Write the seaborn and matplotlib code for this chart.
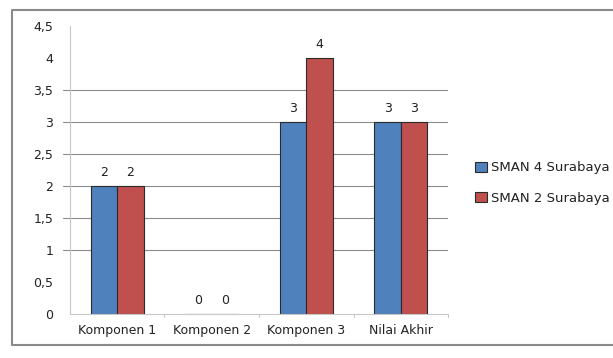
import matplotlib
matplotlib.use("Agg")
import matplotlib.pyplot as plt
import seaborn as sns
import pandas as pd
from matplotlib.lines import Line2D

categories = ["Komponen 1", "Komponen 2", "Komponen 3", "Nilai Akhir"]
series_names = ["SMAN 4 Surabaya", "SMAN 2 Surabaya"]
sman4 = [2, 0, 3, 3]
sman2 = [2, 0, 4, 3]
yticks = [0, 0.5, 1, 1.5, 2, 2.5, 3, 3.5, 4, 4.5]
ytick_labels = ["0", "0,5", "1", "1,5", "2", "2,5", "3", "3,5", "4", "4,5"]

df = pd.DataFrame({
    "Kategori": categories * 2,
    "Nilai": sman4 + sman2,
    "Sekolah": [series_names[0]] * 4 + [series_names[1]] * 4,
})

sns.set_style("white")
plt.rcParams["font.family"] = ["DejaVu Sans"]

fig = plt.figure(figsize=(6.13, 3.58), dpi=100)
ax = fig.add_axes([0.114, 0.123, 0.617, 0.804])

sns.barplot(data=df, x="Kategori", y="Nilai", hue="Sekolah", ax=ax,
            palette=["#4F81BD", "#C0504D"], width=0.56,
            edgecolor="#2b2b2b", linewidth=0.8, saturation=1)

for cont in ax.containers:
    ax.bar_label(cont, fmt="%g", padding=5, fontsize=9, color="#222222")

ax.set_ylim(0, 4.5)
ax.set_xlim(-0.5, 3.5)
ax.set_yticks(yticks)
ax.set_yticklabels(ytick_labels, fontsize=9, color="#222222")
ax.set_xlabel("")
ax.set_ylabel("")
ax.tick_params(axis="x", labelsize=9, length=0, pad=7, labelcolor="#222222")
ax.tick_params(axis="y", length=0, pad=12)

for y in yticks:
    if 1 <= y <= 3.5:
        ax.axhline(y, color="#8c8c8c", lw=0.8, zorder=0)
        ax.plot([-0.575, -0.5], [y, y], color="#8c8c8c", lw=0.8,
                clip_on=False, zorder=0)

for s in ["top", "right"]:
    ax.spines[s].set_visible(False)
ax.spines["left"].set_color("#c8c8c8")
ax.spines["bottom"].set_color("#c8c8c8")
for xb in [0.5, 1.5, 2.5, 3.5]:
    ax.plot([xb, xb], [0, -0.05], color="#c8c8c8", lw=0.8, clip_on=False)

leg = ax.legend(loc="center left", bbox_to_anchor=(1.04, 0.455), frameon=False,
                fontsize=9.5, handlelength=0.9, handleheight=0.8,
                handletextpad=0.3, labelspacing=1.3)
for t in leg.get_texts():
    t.set_color("#222222")

x0, y0, y1 = 0.02, 0.035, 0.972
fig.add_artist(Line2D([1.0, x0, x0, 1.0], [y1, y1, y0, y0],
                      transform=fig.transFigure, color="#8a8a8a", lw=1.5))

fig.savefig("out.png", dpi=100)
